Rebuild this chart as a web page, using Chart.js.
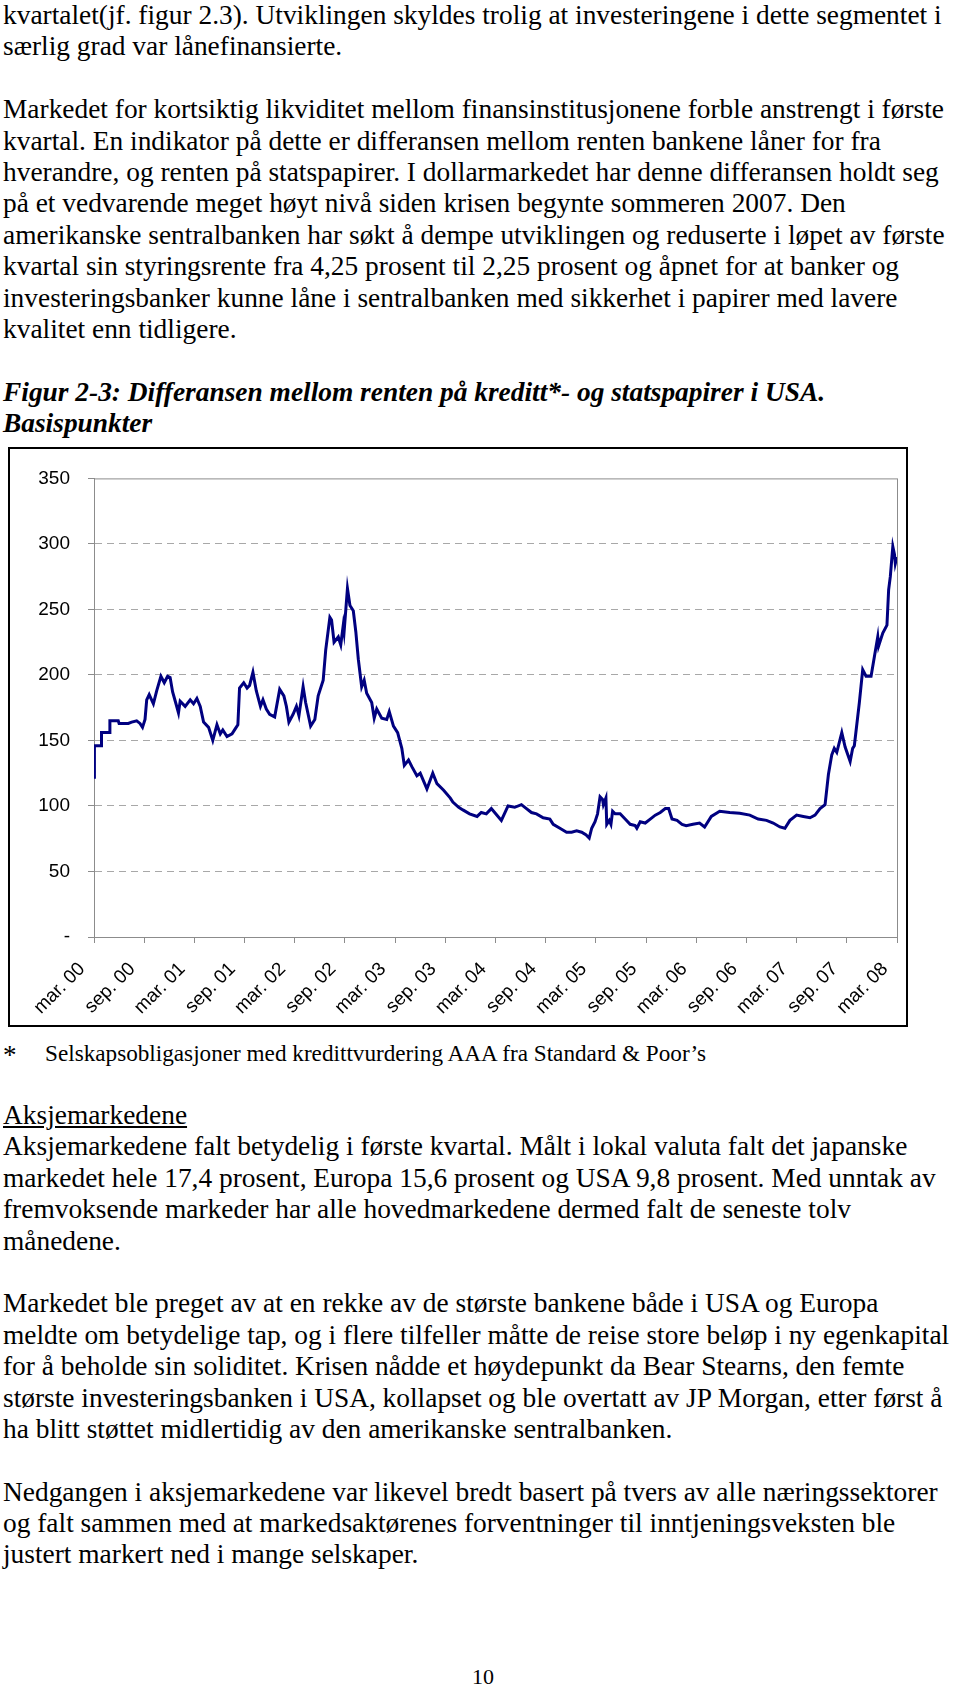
<!DOCTYPE html>
<html>
<head>
<meta charset="utf-8">
<script src="https://cdn.jsdelivr.net/npm/chart.js@4.4.0/dist/chart.umd.min.js"></script>
<style>
  body { margin: 0; background: #fff; width: 960px; height: 1689px; position: relative; overflow: hidden; }
  .txt { position: absolute; left: 3px; font-family: 'Liberation Serif', 'Times New Roman', serif; font-size: 27.4px; line-height: 31.4px; color: #000; white-space: nowrap; }
  .txt div { height: 31.4px; }
  .title { font-weight: bold; font-style: italic; }
  #frame { position: absolute; left: 8px; top: 447px; width: 896px; height: 576px; border: 2px solid #000; }
  #note { position: absolute; top: 1038px; left: 3px; font-family: 'Liberation Serif', serif; font-size: 23.2px; white-space: nowrap; }
  #note b { font-weight: normal; font-size: 27px; position: relative; top: 2px; }
  #note span { position: absolute; left: 42px; top: 2px; }
  #pageno { position: absolute; top: 1664px; left: 0; width: 966px; text-align: center; font-family: 'Liberation Serif', serif; font-size: 22px; }
</style>
</head>
<body>

<div class="txt" style="top:0">
  <div>kvartalet(jf. figur 2.3). Utviklingen skyldes trolig at investeringene i dette segmentet i</div>
  <div>særlig grad var lånefinansierte.</div>
  <div></div>
  <div>Markedet for kortsiktig likviditet mellom finansinstitusjonene forble anstrengt i første</div>
  <div>kvartal. En indikator på dette er differansen mellom renten bankene låner for fra</div>
  <div>hverandre, og renten på statspapirer. I dollarmarkedet har denne differansen holdt seg</div>
  <div>på et vedvarende meget høyt nivå siden krisen begynte sommeren 2007. Den</div>
  <div>amerikanske sentralbanken har søkt å dempe utviklingen og reduserte i løpet av første</div>
  <div>kvartal sin styringsrente fra 4,25 prosent til 2,25 prosent og åpnet for at banker og</div>
  <div>investeringsbanker kunne låne i sentralbanken med sikkerhet i papirer med lavere</div>
  <div>kvalitet enn tidligere.</div>
  <div></div>
  <div class="title">Figur 2-3: Differansen mellom renten på kreditt*- og statspapirer i USA.</div>
  <div class="title">Basispunkter</div>
</div>

<div id="frame"><canvas id="chart" width="896" height="576"></canvas></div>

<div id="note"><b>*</b><span>Selskapsobligasjoner med kredittvurdering AAA fra Standard &amp; Poor’s</span></div>

<div class="txt" style="top:1100px">
  <div style="text-decoration: underline">Aksjemarkedene</div>
  <div>Aksjemarkedene falt betydelig i første kvartal. Målt i lokal valuta falt det japanske</div>
  <div>markedet hele 17,4 prosent, Europa 15,6 prosent og USA 9,8 prosent. Med unntak av</div>
  <div>fremvoksende markeder har alle hovedmarkedene dermed falt de seneste tolv</div>
  <div>månedene.</div>
  <div></div>
  <div>Markedet ble preget av at en rekke av de største bankene både i USA og Europa</div>
  <div>meldte om betydelige tap, og i flere tilfeller måtte de reise store beløp i ny egenkapital</div>
  <div>for å beholde sin soliditet. Krisen nådde et høydepunkt da Bear Stearns, den femte</div>
  <div>største investeringsbanken i USA, kollapset og ble overtatt av JP Morgan, etter først å</div>
  <div>ha blitt støttet midlertidig av den amerikanske sentralbanken.</div>
  <div></div>
  <div>Nedgangen i aksjemarkedene var likevel bredt basert på tvers av alle næringssektorer</div>
  <div>og falt sammen med at markedsaktørenes forventninger til inntjeningsveksten ble</div>
  <div>justert markert ned i mange selskaper.</div>
</div>

<div id="pageno">10</div>

<script>
const tickLabels = ['mar. 00', 'sep. 00', 'mar. 01', 'sep. 01', 'mar. 02', 'sep. 02', 'mar. 03', 'sep. 03',
  'mar. 04', 'sep. 04', 'mar. 05', 'sep. 05', 'mar. 06', 'sep. 06', 'mar. 07', 'sep. 07', 'mar. 08'];

const yTicks = [0, 50, 100, 150, 200, 250, 300, 350];

// months after mar. 2000
const months = [
  0, 0.05, 0.9, 0.9, 1.9, 1.9, 2.9, 3.0, 4.1, 4.5, 5.1, 5.5, 5.8, 6.1, 6.3, 6.6, 7.1, 7.5, 8.0, 8.4,
  8.8, 9.1, 9.4, 9.8, 10.1, 10.3, 10.9, 11.5, 11.9, 12.3, 12.7, 13.1, 13.7, 14.2, 14.7, 15.1, 15.4, 15.9, 16.5, 16.9,
  17.2, 17.4, 17.9, 18.3, 18.6, 19.0, 19.4, 19.9, 20.2, 20.6, 21.0, 21.6, 22.2, 22.7, 23.0, 23.3, 23.8, 24.2, 24.5, 25.0,
  25.3, 25.9, 26.4, 26.8, 27.4, 27.7, 28.2, 28.4, 28.7, 29.2, 29.5, 29.8, 29.9, 30.3, 30.6, 31.0, 31.3, 31.6, 32.0, 32.3,
  32.6, 33.2, 33.5, 33.8, 34.4, 35.0, 35.3, 35.8, 36.3, 36.8, 37.1, 37.6, 38.0, 38.6, 39.0, 39.8, 40.5, 41.0, 41.8, 42.6,
  42.9, 43.6, 44.1, 44.9, 45.8, 46.3, 46.9, 47.5, 47.9, 48.7, 49.5, 50.3, 51.1, 51.7, 52.3, 52.9, 53.7, 54.5, 54.9, 55.7,
  56.5, 57.1, 57.7, 58.3, 58.8, 59.2, 59.5, 59.9, 60.2, 60.5, 60.8, 60.9, 61.2, 61.3, 61.6, 61.8, 62.0, 62.3, 62.9, 63.5,
  64.1, 64.7, 64.9, 65.3, 65.9, 66.5, 67.1, 67.7, 68.3, 68.7, 69.1, 69.7, 70.3, 70.8, 71.6, 72.4, 73.0, 73.8, 74.8, 76.0,
  77.2, 78.4, 79.4, 80.4, 81.2, 82.0, 82.6, 83.2, 84.0, 84.8, 85.6, 86.2, 86.8, 87.4, 87.8, 88.2, 88.5, 88.8, 89.4, 89.8,
  90.4, 90.7, 90.9, 91.5, 91.9, 92.3, 92.9, 93.3, 93.7, 93.8, 94.3, 94.8, 95.0, 95.2, 95.5, 95.7, 95.8, 96.0
];

// basispunkter
const spread = [
  122, 146, 146, 156, 156, 165, 165, 163, 163, 164, 165, 163, 160, 166, 181, 185, 178, 188, 199, 194,
  199, 198, 187, 178, 171, 180, 176, 181, 178, 182, 176, 164, 160, 150, 162, 155, 158, 153, 155, 159,
  162, 190, 194, 190, 192, 202, 188, 176, 181, 174, 170, 168, 189, 184, 176, 164, 170, 176, 169, 191,
  179, 161, 166, 184, 196, 219, 244, 242, 225, 229, 223, 238, 233, 266, 253, 249, 233, 212, 191, 196,
  186, 179, 167, 174, 167, 166, 172, 161, 156, 144, 131, 135, 130, 123, 125, 113, 125, 117, 112, 106,
  103, 99, 97, 94, 92, 95, 94, 98, 95, 89, 100, 99, 101, 98, 95, 94, 91, 90, 86, 83,
  80, 80, 81, 80, 78, 75.5, 83, 88, 94, 107, 105, 101, 106, 86, 89, 86, 96, 94, 94, 90,
  86, 85, 83, 88, 87, 90, 93, 95, 98, 98, 90, 89, 86, 85, 86, 87, 84, 92, 96, 95,
  94.5, 93, 90, 89, 87, 84, 83, 89, 93, 92, 91, 93, 98, 101, 124, 139, 144, 141, 156, 145,
  134, 144, 146, 179, 204, 199, 199, 214, 229, 222, 232, 238, 265, 275, 298, 292, 285, 290
];

const points = months.map((m, i) => ({ x: m, y: spread[i] }));

// grey frame round the plot area
const plotFrame = {
  id: 'plotFrame',
  beforeDatasetsDraw(chart) {
    const a = chart.chartArea;
    const ctx = chart.ctx;
    ctx.save();
    ctx.strokeStyle = '#8c8c8c';
    ctx.lineWidth = 1;
    ctx.strokeRect(a.left + 0.5, a.top + 0.5, a.right - a.left, a.bottom - a.top);
    ctx.restore();
  }
};

new Chart(document.getElementById('chart'), {
  type: 'line',
  data: {
    datasets: [{
      data: points,
      borderColor: '#000080',
      borderWidth: 3,
      pointRadius: 0,
      tension: 0
    }]
  },
  options: {
    responsive: false,
    animation: false,
    layout: { padding: { top: 25, right: 9, left: 0, bottom: 0 } },
    plugins: { legend: { display: false }, tooltip: { enabled: false } },
    scales: {
      x: {
        type: 'linear',
        min: 0,
        max: 96,
        afterBuildTicks: axis => { axis.ticks = tickLabels.map((_, i) => ({ value: i * 6 })); },
        afterFit: s => { s.height = 88; s.paddingLeft = 0; s.paddingRight = 0; },
        ticks: {
          autoSkip: false,
          minRotation: 45,
          maxRotation: 45,
          labelOffset: -12,
          padding: 15,
          color: '#000',
          font: { family: 'Liberation Sans', size: 19 },
          callback: (v, i) => tickLabels[i]
        },
        grid: { drawOnChartArea: false, tickLength: 6, tickColor: '#8c8c8c', color: '#8c8c8c' },
        border: { color: '#8c8c8c', width: 1 }
      },
      y: {
        min: 0,
        max: 350,
        afterBuildTicks: axis => { axis.ticks = yTicks.map(v => ({ value: v })); },
        afterFit: s => { s.width = 84; },
        ticks: {
          padding: 18,
          color: '#000',
          font: { family: 'Liberation Sans', size: 19 },
          callback: v => v === 0 ? '-' : v
        },
        grid: {
          tickLength: 6,
          tickColor: '#8c8c8c',
          color: c => (c.tick && (c.tick.value === 0 || c.tick.value === 350)) ? 'rgba(0,0,0,0)' : '#a8a8a8'
        },
        border: { color: '#8c8c8c', width: 1, dash: [7, 5] }
      }
    }
  },
  plugins: [plotFrame]
});
</script>
</body>
</html>
